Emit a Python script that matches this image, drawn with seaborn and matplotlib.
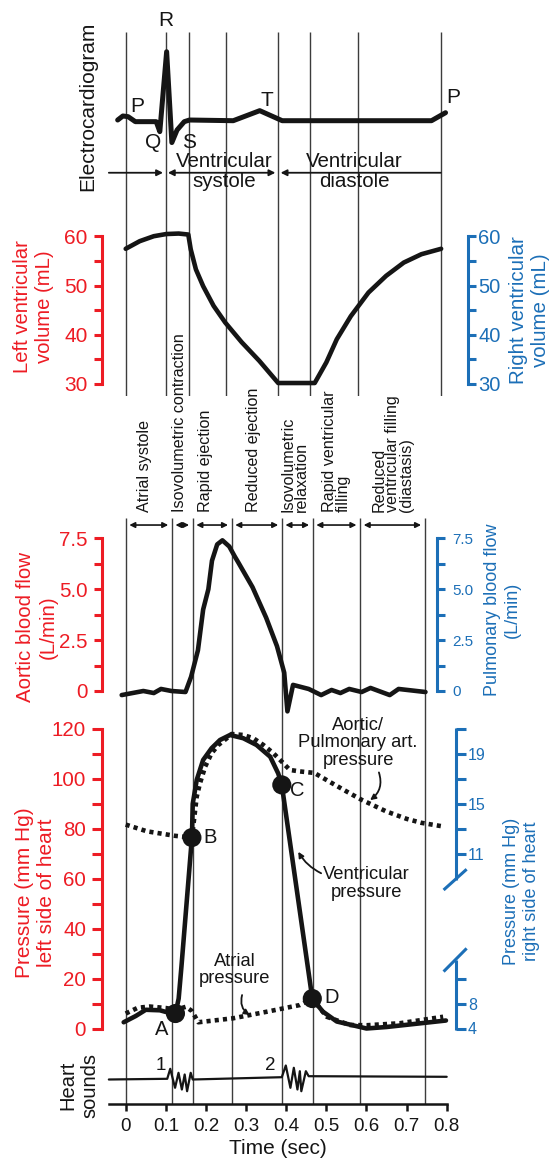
import matplotlib
matplotlib.use("Agg")
import matplotlib.pyplot as plt
import matplotlib.transforms as mtransforms
import seaborn as sns

# ---------------- data ----------------
# event boundaries (sec) as drawn in the upper and lower part of the diagram
top_events = [0.0, 0.101, 0.157, 0.249, 0.380, 0.460, 0.580, 0.785]
bottom_events = [0.0, 0.115, 0.167, 0.264, 0.389, 0.466, 0.584, 0.745]

phase_names = ["Atrial systole", "Isovolumetric contraction", "Rapid ejection",
               "Reduced ejection", "Isovolumetric\nrelaxation",
               "Rapid ventricular\nfilling",
               "Reduced\nventricular filling\n(diastasis)"]
phase_label_t = [0.048, 0.134, 0.198, 0.318, 0.422, 0.525, 0.666]

ecg_t = [-0.02, -0.007, 0.006, 0.024, 0.076, 0.085, 0.102, 0.115, 0.128, 0.146,
         0.159, 0.268, 0.334, 0.39, 0.762, 0.797]
ecg_v = [0.0, 0.059, 0.049, -0.024, -0.024, -0.17, 1.0, -0.33, -0.146, -0.024,
         0.0, -0.01, 0.137, -0.01, -0.01, 0.107]
ecg_waves = ["P", "Q", "R", "S", "T", "P"]
ecg_wave_t = [0.028, 0.069, 0.100, 0.157, 0.351, 0.815]
ecg_wave_v = [0.205, -0.332, 1.454, -0.332, 0.293, 0.332]

vol_t = [0.0, 0.035, 0.07, 0.101, 0.132, 0.156, 0.162, 0.175, 0.193, 0.219, 0.248,
         0.289, 0.333, 0.38, 0.471, 0.5, 0.526, 0.561, 0.605, 0.649, 0.693, 0.737,
         0.786]
vol_ml = [57.5, 59.05, 60.06, 60.5, 60.6, 60.4, 57.4, 53.3, 49.9, 45.9, 42.5,
          38.5, 34.7, 30.2, 30.2, 34.4, 39.1, 43.8, 48.6, 52.0, 54.7, 56.4, 57.5]

flow_t = [-0.01, 0.044, 0.07, 0.088, 0.114, 0.149, 0.163, 0.18, 0.193, 0.206,
          0.215, 0.228, 0.241, 0.258, 0.272, 0.281, 0.316, 0.35, 0.377, 0.395,
          0.403, 0.417, 0.456, 0.487, 0.513, 0.535, 0.557, 0.588, 0.61, 0.658,
          0.68, 0.747]
flow_v = [-0.2, 0.0, -0.1, 0.1, 0.0, -0.05, 0.7, 2.0, 4.0, 5.0, 6.4, 7.2, 7.4,
          7.1, 6.6, 6.3, 5.1, 3.6, 2.2, 0.9, -1.0, 0.3, 0.1, -0.2, 0.05, -0.1,
          0.1, -0.05, 0.15, -0.2, 0.1, -0.05]

vent_t = [-0.005, 0.025, 0.05, 0.085, 0.11, 0.124, 0.132, 0.139, 0.165, 0.167,
          0.177, 0.193, 0.214, 0.235, 0.26, 0.293, 0.326, 0.36, 0.38, 0.389,
          0.465, 0.491, 0.526, 0.6, 0.65, 0.798]
vent_p = [2.5, 5.0, 7.5, 7.3, 6.2, 6.0, 12, 25, 76.5, 90, 99.6, 107.6, 112.3,
          115.6, 117.6, 116.3, 113.6, 108.9, 102.2, 97.6, 12.0, 6.8, 2.8, 0.0,
          0.6, 3.2]

aortic_t = [0.0, 0.053, 0.123, 0.165, 0.177, 0.185, 0.198, 0.214, 0.231, 0.252,
            0.264, 0.293, 0.318, 0.343, 0.368, 0.389, 0.409, 0.434, 0.47, 0.513,
            0.55, 0.587, 0.649, 0.7, 0.737, 0.793]
aortic_p = [81.7, 79.0, 77.2, 76.5, 92.9, 98.2, 104.9, 110.3, 113.6, 116.3, 118.0,
            117.6, 116.3, 113.6, 110.3, 106.9, 103.6, 103.0, 102.4, 98.4, 95.0,
            91.7, 87.0, 84.0, 82.4, 80.9]

atrial_t = [0.0, 0.03, 0.06, 0.1, 0.125, 0.15, 0.165, 0.181, 0.268, 0.351, 0.434,
            0.465, 0.501, 0.559, 0.6, 0.683, 0.791]
atrial_p = [6.0, 8.3, 8.8, 8.2, 7.5, 8.7, 7.0, 2.5, 4.1, 6.7, 9.4, 12.0, 4.7, 1.4,
            1.3, 2.1, 4.7]

valve_names = ["A", "B", "C", "D"]
valve_t = [0.124, 0.165, 0.389, 0.465]
valve_p = [6.0, 76.5, 97.6, 12.0]
valve_label_t = [0.090, 0.211, 0.428, 0.513]
valve_label_p = [-0.6, 76.4, 95.2, 12.5]

sound_t = [-0.042, 0.1035, 0.111, 0.123, 0.1316, 0.140, 0.147, 0.153, 0.162,
           0.167, 0.389, 0.399, 0.4105, 0.419, 0.428, 0.434, 0.4377, 0.449, 0.456,
           0.8]
sound_v = [0.0, 0.07, 1.07, -0.83, 0.67, -1.0, 0.5, -1.17, 0.67, 0.0, 0.23, 1.4,
           -0.83, 1.17, -1.0, 0.83, -1.17, 0.83, 0.33, 0.27]

time_ticks = [0, 0.1, 0.2, 0.3, 0.4, 0.5, 0.6, 0.7, 0.8]

# ---------------- style ----------------
sns.set_theme(style="white")
plt.rcParams["font.family"] = ["Liberation Sans", "DejaVu Sans"]

RED = "#ED1C24"
BLUE = "#1C6FB7"
INK = "#151515"
GRID = "#3c3c3c"
LW = 3.3
SPW = 2.2
DOT = (0, (0.9, 0.9))

W, H = 550, 1164
fig = plt.figure(figsize=(W / 100, H / 100), dpi=100)


def t_of(px):
    return (px - 125.7) / 401.3


def box(x0, y0, x1, y1):
    ax = fig.add_axes([x0 / W, 1 - y1 / H, (x1 - x0) / W, (y1 - y0) / H])
    ax.set_xlim(t_of(x0), t_of(x1))
    ax.patch.set_alpha(0)
    for s in ax.spines.values():
        s.set_visible(False)
    ax.set_xticks([])
    ax.set_yticks([])
    return ax


def side_axis(ax, side, color, major, labels, minor, size, pad, length=6):
    ax.spines[side].set_visible(True)
    ax.spines[side].set_color(color)
    ax.spines[side].set_linewidth(SPW)
    ax.yaxis.set_ticks_position(side)
    ax.set_yticks(major, labels)
    ax.set_yticks(minor, minor=True)
    ax.tick_params(axis="y", which="both", direction="out", length=length,
                   width=SPW, color=color, labelcolor=color, labelsize=size,
                   pad=pad, left=(side == "left"), right=(side == "right"),
                   labelleft=(side == "left"), labelright=(side == "right"))


def curve(ax, x, y, dotted=False, lw=LW):
    sns.lineplot(x=x, y=y, ax=ax, sort=False, estimator=None, color=INK,
                 linewidth=lw, clip_on=False, legend=False, zorder=4)
    line = ax.lines[-1]
    line.set_solid_joinstyle("round")
    if dotted:
        line.set_linestyle(DOT)
        line.set_dash_capstyle("butt")
    return line


def flabel(x, y, s, color, size, rot=90, ls=1.2):
    fig.text(x / W, 1 - y / H, s, color=color, fontsize=size, rotation=rot,
             ha="center", va="center", multialignment="center", linespacing=ls)


# ---------------- upper section ----------------
top_lines = box(101.5, 31.7, 468, 396)
top_lines.set_ylim(0, 1)
top_lines.vlines(top_events, 0, 1, color=GRID, lw=1.0)

ecg = box(101.5, 31.7, 468, 200)
ecg.set_ylim(-1.171, 1.293)
curve(ecg, ecg_t, ecg_v, lw=3.6)
for name, x, y in zip(ecg_waves, ecg_wave_t, ecg_wave_v):
    ecg.text(x, y, name, fontsize=15, ha="center", va="center", color=INK)
arr = dict(lw=1.3, color=INK, shrinkA=0, shrinkB=0, mutation_scale=9)
ecg.annotate("", xy=(0.093, -0.772), xytext=(-0.042, -0.772),
             arrowprops=dict(arrowstyle="-|>", **arr))
ecg.annotate("", xy=(0.373, -0.772), xytext=(0.105, -0.772),
             arrowprops=dict(arrowstyle="<|-|>", **arr))
ecg.annotate("", xy=(0.386, -0.772), xytext=(0.785, -0.772),
             arrowprops=dict(arrowstyle="-|>", **arr))
ecg.text(0.246, -0.754, "Ventricular\nsystole", fontsize=14.8, ha="center",
         va="center", linespacing=1.08, color=INK)
ecg.text(0.57, -0.754, "Ventricular\ndiastole", fontsize=14.8, ha="center",
         va="center", linespacing=1.08, color=INK)
flabel(87.7, 106, "Electrocardiogram", INK, 15)

vol = box(101.5, 236.5, 468, 384)
vol.set_ylim(30, 60)
curve(vol, vol_t, vol_ml)
side_axis(vol, "left", RED, [30, 40, 50, 60], ["30", "40", "50", "60"],
          [35, 45, 55], 15, 4)
vol_r = vol.twinx()
vol_r.set_ylim(30, 60)
for s in vol_r.spines.values():
    s.set_visible(False)
side_axis(vol_r, "right", BLUE, [30, 40, 50, 60], ["30", "40", "50", "60"],
          [35, 45, 55], 14.5, 1.5)
flabel(33.3, 306.7, "Left ventricular\nvolume (mL)", RED, 14.6)
flabel(529, 310, "Right ventricular\nvolume (mL)", BLUE, 14.8)

# ---------------- lower section ----------------
bot_lines = box(101.5, 518, 468, 1104)
bot_lines.set_ylim(0, 1)
bot_lines.vlines(bottom_events, 0, 1, color=GRID, lw=1.0)
arr2 = dict(arrowstyle="<|-|>", lw=1.2, color=INK, shrinkA=0, shrinkB=0,
            mutation_scale=8)
for a, b in zip(bottom_events[:-1], bottom_events[1:]):
    bot_lines.annotate("", xy=(b - 0.009, 0.988), xytext=(a + 0.009, 0.988),
                       xycoords=("data", "axes fraction"),
                       arrowprops=arr2)
for name, x in zip(phase_names, phase_label_t):
    bot_lines.annotate(name, xy=(x, 1.0), xycoords=("data", "axes fraction"),
                       xytext=(0, 4.5), textcoords="offset points",
                       rotation=90, ha="center", va="bottom", fontsize=11.6,
                       multialignment="left", linespacing=0.88, color=INK,
                       annotation_clip=False)

flow = box(101.5, 538.3, 436.7, 691)
flow.set_ylim(0, 7.5)
curve(flow, flow_t, flow_v)
side_axis(flow, "left", RED, [0, 2.5, 5, 7.5], ["0", "2.5", "5.0", "7.5"],
          [1.25, 3.75, 6.25], 14.8, 4)
flow_r = flow.twinx()
flow_r.set_ylim(0, 7.5)
for s in flow_r.spines.values():
    s.set_visible(False)
side_axis(flow_r, "right", BLUE, [0, 2.5, 5, 7.5], ["0", "2.5", "5.0", "7.5"],
          [1.25, 3.75, 6.25], 11, 5)
flabel(36.9, 626.7, "Aortic blood flow\n(L/min)", RED, 14.8)
flabel(502.5, 610, "Pulmonary blood flow\n(L/min)", BLUE, 13)

pr = box(101.5, 729, 456, 1028.5)
pr.set_ylim(0, 120)
curve(pr, aortic_t, aortic_p, dotted=True)
curve(pr, atrial_t, atrial_p, dotted=True)
curve(pr, vent_t, vent_p)
sns.scatterplot(x=valve_t, y=valve_p, ax=pr, s=190, color=INK, edgecolor="none",
                zorder=6, clip_on=False, legend=False)
for name, x, y in zip(valve_names, valve_label_t, valve_label_p):
    pr.text(x, y, name, fontsize=14.5, ha="center", va="center", color=INK)
side_axis(pr, "left", RED, list(range(0, 121, 20)),
          [str(v) for v in range(0, 121, 20)], list(range(10, 120, 20)), 14.8, 4,
          length=7)

pr_r = pr.twinx()
pr_r.set_ylim(0, 120)
for s in pr_r.spines.values():
    s.set_visible(False)
pr_r.yaxis.set_ticks_position("right")
pr_r.set_yticks([0, 10, 20, 70, 80, 90, 100, 110, 120],
                ["4", "8", "", "11", "", "15", "", "19", ""])
pr_r.tick_params(axis="y", direction="out", length=7, width=SPW, color=BLUE,
                 labelcolor=BLUE, labelsize=11.5, pad=1.5)
tr = mtransforms.blended_transform_factory(pr_r.transAxes, pr_r.transData)
for xs, ys in [([1, 1], [120.3, 59.5]), ([0.965, 1.03], [55.5, 63.8]),
               ([1, 1], [27.4, -0.5]), ([0.965, 1.03], [22.8, 32.1])]:
    pr_r.plot(xs, ys, color=BLUE, lw=SPW, transform=tr, clip_on=False,
              solid_capstyle="butt")

ann = dict(fontsize=13.2, ha="center", va="center", color=INK, linespacing=1.05)
pr.annotate("Aortic/\nPulmonary art.\npressure", xy=(0.609, 91.5),
            xytext=(0.579, 114.5), **ann)
pr.annotate("", xy=(0.609, 91.5), xytext=(0.631, 102.6),
            arrowprops=dict(arrowstyle="-|>", lw=1.3, color=INK, shrinkA=0,
                            shrinkB=0, mutation_scale=8,
                            connectionstyle="arc3,rad=-0.35"))
pr.annotate("Ventricular\npressure", xy=(0.6, 58.1), **ann)
pr.annotate("", xy=(0.43, 70.8), xytext=(0.487, 62.2),
            arrowprops=dict(arrowstyle="-|>", lw=1.3, color=INK, shrinkA=0,
                            shrinkB=0, mutation_scale=8,
                            connectionstyle="arc3,rad=-0.15"))
pr.annotate("Atrial\npressure", xy=(0.271, 23.4), **ann)
pr.annotate("", xy=(0.309, 5.4), xytext=(0.29, 13.4),
            arrowprops=dict(arrowstyle="-|>", lw=1.3, color=INK, shrinkA=0,
                            shrinkB=0, mutation_scale=8,
                            connectionstyle="arc3,rad=0.35"))
flabel(35.1, 893, "Pressure (mm Hg)\nleft side of heart", RED, 15)
flabel(521.6, 891.7, "Pressure (mm Hg)\nright side of heart", BLUE, 13)

hs = box(109, 1050, 446.7, 1104)
hs.set_ylim(-2.45, 2.95)
curve(hs, sound_t, sound_v, lw=1.6)
hs.text(0.087, 1.45, "1", fontsize=13.5, ha="center", va="center", color=INK)
hs.text(0.36, 1.45, "2", fontsize=13.5, ha="center", va="center", color=INK)
hs.spines["bottom"].set_visible(True)
hs.spines["bottom"].set_color(INK)
hs.spines["bottom"].set_linewidth(1.8)
hs.set_xticks(time_ticks, [f"{v:g}" for v in time_ticks])
hs.tick_params(axis="x", direction="out", length=5, width=1.8, color=INK,
               labelsize=13.5, pad=5, bottom=True, labelcolor=INK)
hs.set_xlabel("Time (sec)", fontsize=15, color=INK, labelpad=3)
hs.xaxis.label.set_visible(True)
flabel(79.2, 1085, "Heart\nsounds", INK, 14.5)

fig.savefig("out.png", dpi=100, facecolor="white")
